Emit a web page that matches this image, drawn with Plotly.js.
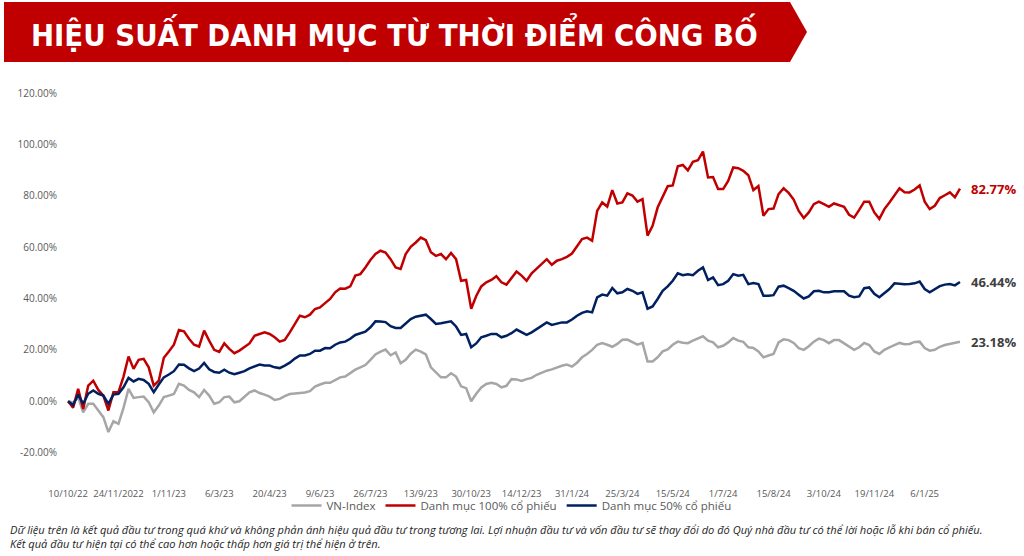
<!DOCTYPE html>
<html>
<head>
<meta charset="utf-8">
<script src="https://cdn.plot.ly/plotly-3.0.1.min.js"></script>
<style>
  html, body { margin: 0; padding: 0; background: #fff; }
  #chart { width: 1024px; height: 556px; }
</style>
</head>
<body>
<div id="chart"></div>
<script>
// tick labels on the category axis (one every 10 samples)
var dateLabels = ['10/10/22', '24/11/2022', '1/11/23', '6/3/23', '20/4/23', '9/6/23', '26/7/23',
  '13/9/23', '30/10/23', '14/12/23', '31/1/24', '25/3/24', '15/5/24', '1/7/24', '15/8/24',
  '3/10/24', '19/11/24', '6/1/25'];

var yTicks = [-20, 0, 20, 40, 60, 80, 100, 120];

var seriesNames = ['VN-Index', 'Danh mục 100% cổ phiếu', 'Danh mục 50% cổ phiếu'];

// cumulative return, %
var vnIndex = [
  0, -0.5, 1.5, -4.3, -1.0, -1.0, -3.6, -6.2, -12.0, -7.8,
  -8.8, -2.6, 4.8, 1.3, 1.6, 1.8, -0.4, -4.3, -1.7, 1.6,
  2.2, 2.8, 6.8, 6.1, 4.4, 3.5, 1.6, 4.4, 2.2, -1.0,
  -0.4, 1.6, 1.8, -0.4, 0.0, 1.6, 3.5, 4.2, 3.2, 2.6,
  1.8, 0.5, 0.9, 2.0, 2.8, 3.0, 3.1, 3.4, 3.9, 5.7,
  6.5, 7.2, 7.2, 8.4, 9.3, 9.6, 10.9, 12.3, 13.2, 14.1,
  16.1, 18.2, 19.3, 20.1, 17.9, 19.0, 14.8, 16.1, 18.5, 20.1,
  19.3, 18.2, 13.2, 11.3, 9.3, 9.3, 10.9, 9.6, 5.8, 5.1,
  0.0, 2.9, 5.4, 6.7, 7.2, 6.7, 5.4, 6.0, 8.6, 8.5,
  7.9, 8.6, 9.1, 10.3, 11.2, 11.9, 12.4, 13.2, 13.8, 14.3,
  13.5, 15.0, 17.1, 18.4, 20.0, 22.0, 22.6, 22.0, 21.2, 22.3,
  23.9, 24.0, 23.0, 22.0, 22.7, 15.5, 15.5, 17.1, 19.4, 20.2,
  22.0, 23.2, 22.8, 22.6, 23.6, 24.4, 25.3, 23.6, 22.9, 21.0,
  21.6, 22.9, 24.6, 23.6, 23.1, 21.0, 20.7, 19.4, 17.1, 17.8,
  18.4, 22.9, 24.1, 23.8, 22.7, 20.7, 20.0, 21.4, 23.2, 24.4,
  23.8, 22.6, 23.8, 23.8, 22.6, 21.2, 20.0, 21.0, 22.7, 21.9,
  19.4, 18.4, 20.0, 21.0, 22.0, 22.7, 22.2, 22.3, 23.1, 23.2,
  20.7, 19.7, 20.0, 21.2, 21.9, 22.3, 22.6, 23.18
];

var full100 = [
  0, -2.5, 4.8, -3.0, 6.1, 8.0, 4.4, 2.2, -3.6, 3.5,
  3.5, 9.6, 17.4, 12.6, 16.1, 16.5, 13.2, 6.1, 8.0, 16.9,
  19.4, 22.0, 27.7, 27.2, 24.3, 22.0, 21.3, 27.5, 23.6, 20.0,
  19.2, 22.5, 20.4, 18.7, 19.7, 21.0, 22.5, 25.5, 26.2, 26.8,
  26.2, 24.9, 23.2, 23.9, 26.8, 30.0, 33.3, 32.7, 33.7, 35.9,
  36.5, 38.2, 39.8, 42.4, 43.9, 43.8, 44.7, 48.9, 49.5, 52.1,
  55.0, 57.3, 58.6, 57.9, 55.3, 52.1, 51.5, 57.3, 60.1, 61.8,
  63.7, 62.7, 58.0, 56.6, 57.3, 55.3, 57.7, 55.3, 46.9, 47.2,
  36.0, 41.0, 44.7, 46.3, 47.2, 48.7, 46.3, 45.4, 48.2, 50.5,
  48.9, 46.9, 49.8, 51.7, 53.4, 55.3, 53.1, 54.7, 55.3, 56.2,
  57.5, 60.1, 63.1, 63.7, 62.5, 74.1, 77.4, 75.8, 82.2, 77.0,
  77.4, 80.9, 80.1, 77.7, 78.7, 64.5, 68.3, 75.4, 79.3, 83.7,
  84.0, 91.5, 92.0, 89.9, 93.2, 93.8, 97.2, 87.1, 87.3, 82.6,
  82.6, 85.8, 91.0, 90.7, 89.7, 88.0, 82.2, 83.8, 72.2, 74.8,
  75.0, 80.6, 82.9, 81.1, 78.5, 74.1, 71.3, 73.5, 76.7, 77.7,
  76.7, 75.7, 77.0, 76.5, 75.7, 72.6, 71.5, 74.5, 77.7, 77.7,
  73.5, 71.0, 74.8, 77.4, 80.3, 82.9, 81.4, 81.3, 82.4, 84.0,
  77.7, 74.8, 76.1, 79.1, 80.2, 81.3, 79.4, 82.77
];

var half50 = [
  0, -1.5, 2.6, -1.0, 2.9, 4.2, 2.9, 2.2, -1.0, 2.6,
  2.9, 5.4, 9.1, 7.7, 8.7, 8.3, 6.8, 3.5, 6.5, 9.3,
  10.4, 11.7, 14.3, 14.2, 12.8, 11.7, 12.7, 14.9, 12.4, 11.4,
  11.1, 12.3, 11.1, 10.5, 11.1, 11.7, 12.8, 13.5, 14.3, 13.9,
  13.9, 13.2, 12.9, 13.9, 15.0, 16.6, 17.8, 17.8, 18.4, 19.7,
  19.7, 20.7, 20.6, 22.0, 22.9, 23.2, 24.3, 25.8, 26.3, 27.1,
  28.8, 31.1, 31.0, 30.8, 29.2, 28.5, 28.5, 30.1, 32.0, 32.9,
  33.2, 33.7, 32.0, 30.1, 30.4, 30.8, 31.1, 29.1, 25.8, 26.2,
  21.0, 22.5, 24.9, 25.5, 26.2, 26.2, 24.9, 25.5, 26.5, 27.9,
  26.8, 25.8, 26.8, 28.1, 29.4, 30.7, 29.7, 30.3, 30.7, 30.7,
  31.8, 33.3, 34.4, 35.0, 34.6, 40.4, 41.5, 41.1, 44.1, 42.0,
  42.4, 43.7, 43.0, 41.8, 42.4, 36.0, 36.9, 39.8, 43.0, 44.7,
  46.9, 49.8, 49.1, 49.4, 49.1, 50.8, 52.1, 47.2, 48.2, 45.2,
  45.6, 46.9, 49.5, 48.9, 49.2, 45.6, 46.0, 45.6, 41.1, 41.1,
  41.3, 44.6, 45.0, 44.0, 43.0, 41.5, 40.0, 40.8, 42.8, 43.0,
  42.4, 42.4, 42.8, 42.8, 42.8, 41.1, 40.5, 40.8, 44.0, 44.3,
  41.8, 40.5, 42.2, 43.7, 45.9, 45.6, 45.5, 45.6, 45.9, 46.6,
  43.7, 42.4, 43.7, 44.8, 45.4, 45.6, 45.1, 46.44
];

var colors = ['#a6a6a6', '#c00000', '#002060'];
var labelColors = ['#404040', '#c00000', '#404040'];
var allSeries = [vnIndex, full100, half50];

var W = 1024, H = 556;
var M = { l: 58, r: 59, t: 93, b: 70 };
var pw = W - M.l - M.r, ph = H - M.t - M.b;
// pixel -> paper helpers for the banner and the note
function px(x) { return (x - M.l) / pw; }
function py(y) { return (H - M.b - y) / ph; }

var traces = allSeries.map(function (vals, k) {
  return {
    y: vals,
    type: 'scatter',
    mode: 'lines',
    name: seriesNames[k],
    line: { color: colors[k], width: 2.5 },
    hoverinfo: 'skip'
  };
});

// end-of-line value labels
var annotations = allSeries.map(function (vals, k) {
  var last = vals[vals.length - 1];
  return {
    x: vals.length - 1, y: last, xref: 'x', yref: 'y',
    text: '<b>' + last.toFixed(2) + '%</b>',
    showarrow: false, xanchor: 'left', xshift: 9,
    font: { family: 'Open Sans, sans-serif', size: 13, color: labelColors[k] }
  };
});

annotations.push({
  xref: 'paper', yref: 'paper', x: px(394), y: py(33),
  text: '<b>HIỆU SUẤT DANH MỤC TỪ THỜI ĐIỂM CÔNG BỐ</b>',
  showarrow: false, xanchor: 'center', yanchor: 'middle',
  font: { family: 'Liberation Sans Narrow, DejaVu Sans Condensed, sans-serif', size: 30.7, color: '#ffffff' }
});

annotations.push({
  xref: 'paper', yref: 'paper', x: px(8), y: py(520),
  text: '<i>Dữ liệu trên là kết quả đầu tư trong quá khứ và không phản ánh hiệu quả đầu tư trong tương lai. Lợi nhuận đầu tư và vốn đầu tư sẽ thay đổi do đó Quý nhà đầu tư có thể lời hoặc lỗ khi bán cổ phiếu.</i>' +
        '<br><i>Kết quả đầu tư hiện tại có thể cao hơn hoặc thấp hơn giá trị thể hiện ở trên.</i>',
  showarrow: false, xanchor: 'left', yanchor: 'top', align: 'left',
  font: { family: 'Open Sans, sans-serif', size: 11.1, color: '#262626' }
});

var banner = {
  type: 'path', xref: 'paper', yref: 'paper', layer: 'below',
  path: 'M ' + px(4) + ' ' + py(2) + ' L ' + px(790) + ' ' + py(2) +
        ' L ' + px(807) + ' ' + py(32) + ' L ' + px(790) + ' ' + py(62) +
        ' L ' + px(4) + ' ' + py(62) + ' Z',
  fillcolor: '#c00000', line: { width: 0 }
};

var layout = {
  width: W, height: H,
  margin: M,
  paper_bgcolor: '#ffffff', plot_bgcolor: 'rgba(0,0,0,0)',
  showlegend: true,
  legend: {
    orientation: 'h', x: 0.5, xanchor: 'center', y: py(491), yanchor: 'top',
    bgcolor: 'rgba(0,0,0,0)',
    font: { family: 'Open Sans, sans-serif', size: 11.5, color: '#595959' },
    itemwidth: 30, tracegroupgap: 0
  },
  xaxis: {
    range: [-2, vnIndex.length],
    tickvals: dateLabels.map(function (d, k) { return k * 10; }),
    ticktext: dateLabels,
    showgrid: false, zeroline: false, showline: false, ticks: '',
    tickfont: { family: 'Open Sans, sans-serif', size: 9.5, color: '#595959' },
    fixedrange: true
  },
  yaxis: {
    range: [-33, 120],
    tickvals: yTicks,
    ticktext: yTicks.map(function (v) { return v.toFixed(2) + '%'; }),
    showgrid: false, zeroline: false, showline: false, ticks: '',
    tickfont: { family: 'Open Sans, sans-serif', size: 10, color: '#595959' },
    fixedrange: true
  },
  shapes: [banner],
  annotations: annotations
};

Plotly.newPlot('chart', traces, layout, { displayModeBar: false, staticPlot: true });
</script>
</body>
</html>
